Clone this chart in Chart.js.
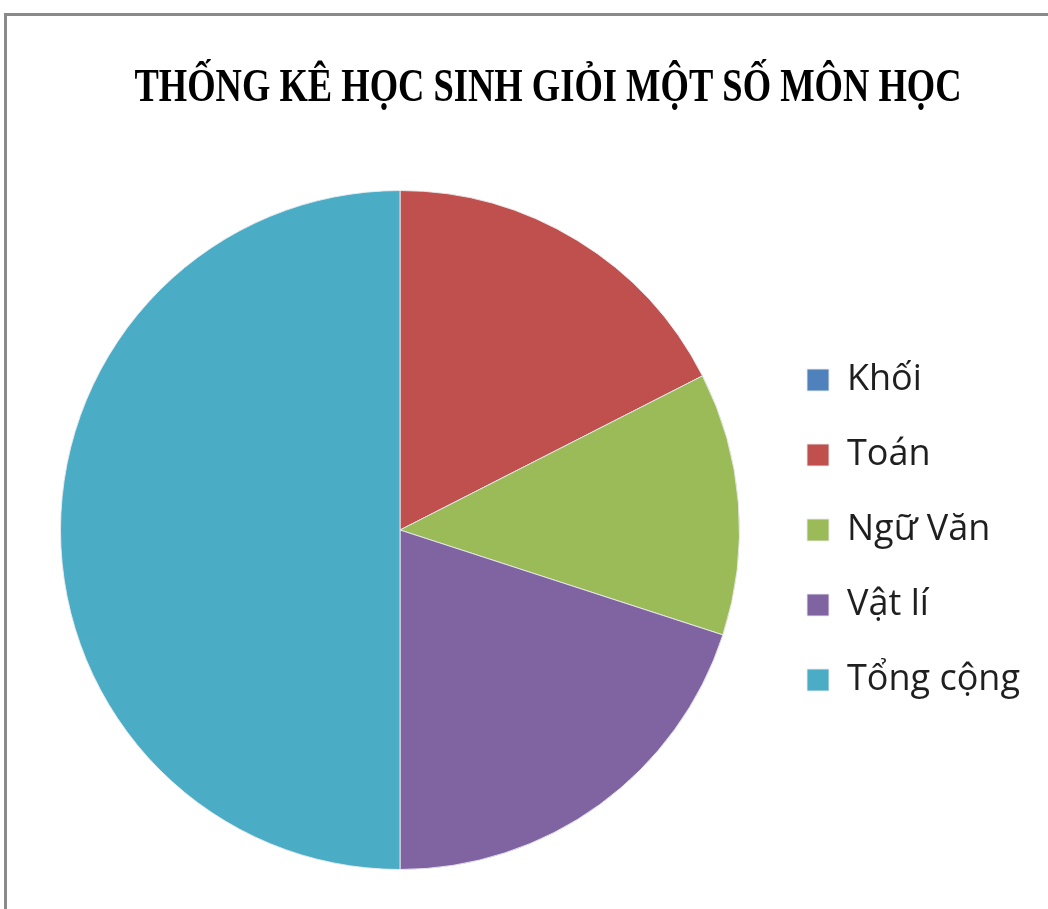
<!DOCTYPE html>
<html>
<head>
<meta charset="utf-8">
<script src="https://cdn.jsdelivr.net/npm/chart.js@4.4.0/dist/chart.umd.min.js"></script>
<style>
  html, body { margin: 0; padding: 0; background: #ffffff; }
  #frame { position: absolute; left: 4px; top: 13px; width: 1200px; height: 1000px;
           border-left: 3px solid #8a8a8a; border-top: 3px solid #8a8a8a; box-sizing: border-box; }
  #wrap { position: absolute; left: 0; top: 0; width: 1048px; height: 909px; }
</style>
</head>
<body>
<div id="frame"></div>
<div id="wrap"><canvas id="c" width="1048" height="909"></canvas></div>
<script>
const titleText = "THỐNG KÊ HỌC SINH GIỎI MỘT SỐ MÔN HỌC";
const categories = ["Khối", "Toán", "Ngữ Văn", "Vật lí", "Tổng cộng"];
const values = [0, 35, 25, 40, 100];
const colors = ["#4F81BD", "#C0504D", "#9BBB59", "#8064A2", "#4BACC6"];

const TITLE_W = 827, TITLE_CX = 548;
const LEGEND_W = 280;

const layoutTweaks = {
  id: 'layoutTweaks',
  afterInit(chart) {
    const lg = chart.legend;
    const origFit = lg.fit.bind(lg);
    lg.fit = function () { origFit(); this.width = LEGEND_W; };
    const t = chart.titleBlock;
    const origDraw = t.draw.bind(t);
    t.draw = function () {
      const ctx = chart.ctx;
      const f = chart.options.plugins.title.font;
      ctx.save();
      ctx.font = "bold " + f.size + "px " + f.family;
      const w = Math.min(ctx.measureText(titleText).width, t.right - t.left);
      const s = TITLE_W / w;
      const cx = (t.left + t.right) / 2;
      ctx.translate(TITLE_CX, 0);
      ctx.scale(s, 1);
      ctx.translate(-cx, 0);
      origDraw();
      ctx.restore();
    };
  }
};

new Chart(document.getElementById('c'), {
  type: 'pie',
  data: {
    labels: categories,
    datasets: [{
      data: values,
      backgroundColor: colors,
      borderColor: 'rgba(235,235,240,0.9)',
      borderWidth: 1
    }]
  },
  options: {
    responsive: false,
    devicePixelRatio: 1,
    animation: false,
    layout: { padding: { left: 32, right: 0, top: 0, bottom: 39 } },
    plugins: {
      tooltip: { enabled: false },
      title: {
        display: true,
        text: titleText,
        color: '#000000',
        font: { family: '"Liberation Serif", "DejaVu Serif", serif', size: 47, weight: 'bold', lineHeight: 1.2 },
        padding: { top: 61, bottom: 72.6 }
      },
      legend: {
        display: true,
        position: 'right',
        align: 'center',
        fullSize: false,
        labels: {
          color: '#1f1f1f',
          boxWidth: 22,
          boxHeight: 22,
          padding: 39,
          font: { family: '"Open Sans", "Liberation Sans", sans-serif', size: 36 }
        }
      }
    }
  },
  plugins: [layoutTweaks]
});
</script>
</body>
</html>
